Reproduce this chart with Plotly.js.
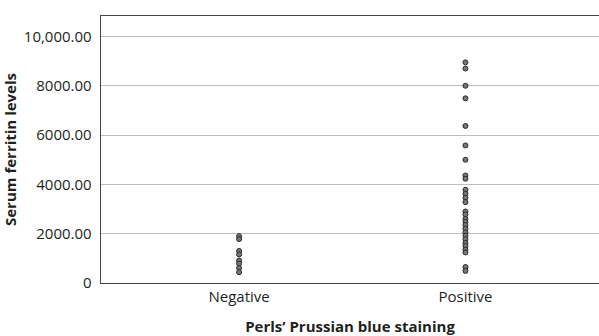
<!DOCTYPE html>
<html>
<head>
<meta charset="utf-8">
<script src="https://cdn.plot.ly/plotly-3.0.1.min.js"></script>
<style>html,body{margin:0;padding:0;background:#fff;}#chart{width:599px;height:336px;}</style>
</head>
<body>
<div id="chart"></div>
<script>
const categories = ["Negative", "Positive"];
const negativeValues = [1900, 1780, 1300, 1160, 910, 790, 610, 440];
const positiveValues = [8950, 8700, 8000, 7490, 6370, 5580, 5000, 4360, 4230,
  3780, 3620, 3460, 3280, 2900, 2780, 2600, 2480, 2350, 2200, 2050, 1920, 1780,
  1620, 1500, 1350, 1240, 650, 490];
const yTickVals = [0, 2000, 4000, 6000, 8000, 10000];
const yTickText = ["0", "2000.00", "4000.00", "6000.00", "8000.00", "10,000.00"];

const xs = [], ys = [];
negativeValues.forEach(v => { xs.push(categories[0]); ys.push(v); });
positiveValues.forEach(v => { xs.push(categories[1]); ys.push(v); });

const font = "'Open Sans', 'Noto Sans', sans-serif";
Plotly.newPlot('chart', [{
  type: 'scatter', mode: 'markers', x: xs, y: ys,
  marker: {size: 5, color: '#767676', line: {color: '#2b2b2b', width: 1}},
  hoverinfo: 'skip', cliponaxis: false
}], {
  width: 599, height: 336,
  margin: {l: 101, r: 0, t: 16, b: 53},
  paper_bgcolor: '#fff', plot_bgcolor: '#fff',
  showlegend: false,
  font: {family: font, color: '#231f20', size: 15},
  xaxis: {
    type: 'category', categoryarray: categories, range: [-0.61, 1.59],
    showgrid: false, showline: true, linecolor: '#444', linewidth: 1.3, mirror: true,
    ticks: '', tickfont: {size: 15}, zeroline: false,
    title: {text: "Perls’ Prussian blue staining", font: {size: 15, weight: 'bold'}, standoff: 16}
  },
  yaxis: {
    range: [0, 10830], tickvals: yTickVals, ticktext: yTickText,
    showgrid: true, gridcolor: '#bdbdbd', gridwidth: 1,
    showline: true, linecolor: '#444', linewidth: 1.3,
    zeroline: false, ticks: '', ticklabelstandoff: 5, tickfont: {size: 15},
    title: {text: "Serum ferritin levels", font: {size: 15, weight: 'bold'}, standoff: 3}
  }
}, {staticPlot: true, displayModeBar: false});
</script>
</body>
</html>
